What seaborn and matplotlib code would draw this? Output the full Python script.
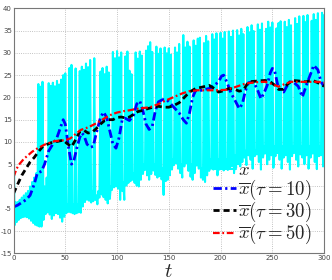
import numpy as np
import pandas as pd
import seaborn as sns
import matplotlib
matplotlib.use("Agg")
import matplotlib.pyplot as plt

# signal x: spike tops at t = 0, 2, ..., 300 and lows at t = 1, 3, ..., 299
x_hi = [19.5, -3.5, -3.5, -3.0, -2.5,
        -2.0, -1.5, -1.0, 0.0, 1.0,
        2.0, 3.0, 23.0, 22.4, 23.5,
        0.0, 2.0, 23.2, 22.6, 23.3,
        22.5, 23.7, 22.9, 24.0, 25.0,
        25.4, -4.0, 26.6, 27.3, -4.0,
        26.5, -4.0, 25.9, 26.9, 26.2,
        27.6, 26.8, 28.4, -1.0, 28.8,
        -2.0, -1.0, 25.8, 26.6, 25.2,
        26.9, 25.6, 0.0, 30.2, 28.8,
        30.4, 29.0, 30.1, 1.0, 29.2,
        30.3, 26.0, 25.2, 3.0, 30.1,
        28.7, 30.3, 29.4, 5.0, 30.5,
        31.5, 32.4, 30.2, 5.0, 31.4,
        29.8, 31.0, 4.0, 31.2, 29.9,
        31.0, 29.6, 6.0, 31.2, 30.1,
        32.0, 5.0, 34.0, 31.2, 32.5,
        31.4, 5.0, 32.8, 31.6, 33.2,
        33.4, 4.0, 32.2, 33.8, 32.6,
        6.0, 34.2, 33.0, 34.4, 6.0,
        34.5, 33.2, 34.7, 6.0, 34.8,
        33.6, 35.0, 7.0, 35.1, 33.9,
        35.4, 34.2, 8.0, 35.8, 34.6,
        36.2, 34.9, 8.0, 36.4, 35.2,
        36.6, 9.0, 35.4, 37.0, 35.7,
        36.8, 9.0, 35.5, 36.7, 37.1,
        9.0, 37.0, 35.8, 37.4, 36.2,
        9.0, 37.8, 36.5, 38.2, 9.0,
        38.3, 36.9, 38.5, 9.0, 37.2,
        38.7, 37.4, 38.9, 9.0, 39.0,
        38.5]
x_lo = [-8.7, -8.0, -7.5, -7.1, -6.9,
        -6.8, -6.9, -7.2, -7.7, -8.2,
        -8.6, -8.8, -9.0, -9.0, -7.5,
        -6.2, -5.8, -6.3, -7.3, -6.5,
        -6.0, -6.2, -7.0, -7.9, -6.8,
        -6.0, -5.7, -5.8, -6.0, -6.2,
        -6.0, -5.8, -5.9, -4.5, -3.5,
        -3.0, -3.2, -3.6, -3.3, -3.0,
        -4.0, -2.5, -1.8, -2.4, -3.0,
        -3.8, -2.8, -0.8, -0.2, 0.0,
        -0.5, -3.0, -1.0, -3.0, 0.2,
        0.8, 1.2, 1.5, 0.8, 0.2,
        0.0, 1.5, 2.8, 3.7, 2.5,
        1.5, 2.8, 3.6, 2.6, 2.0,
        2.3, 1.6, -1.9, 1.2, 1.5,
        2.5, 3.8, 4.8, 5.2, 4.0,
        3.0, 2.0, 4.5, 5.2, 3.5,
        2.2, 1.5, 3.0, 4.7, 4.0,
        2.0, 1.5, 1.0, 2.5, 3.5,
        4.0, 3.8, 4.2, 2.5, 3.8,
        4.0, 3.6, 4.2, 3.7, 4.0,
        4.5, 3.0, 4.2, 5.0, 4.5,
        5.5, 6.5, 4.8, 7.0, 6.0,
        4.0, 6.8, 7.2, 5.5, 3.8,
        6.5, 7.4, 5.0, 6.0, 7.0,
        4.2, 6.8, 7.5, 6.0, 4.0,
        6.5, 7.0, 5.5, 3.8, 6.8,
        7.5, 6.0, 4.5, 7.2, 6.5,
        5.0, 7.0, 4.0, 6.5, 7.4,
        5.5, 3.9, 6.8, 7.0, 4.5]

# moving averages
t_10 = [0, 4, 8, 12, 16, 20, 23, 27, 30, 34, 38, 42, 45, 48, 50, 53, 56, 58,
        61, 64, 66, 68, 71, 74, 77, 80, 84, 87, 90, 93, 96, 99, 102, 105, 108,
        112, 116, 119, 122, 125, 128, 131, 134, 137, 140, 144, 148, 152, 156,
        160, 164, 167, 170, 173, 176, 180, 185, 189, 193, 198, 201, 203, 206,
        210, 214, 218, 221, 224, 227, 232, 236, 239, 242, 245, 248, 250, 252,
        255, 258, 261, 264, 267, 271, 275, 279, 283, 287, 290, 294, 297, 300]
xbar_10 = [-4.6, -4.2, -3.6, -3.0, -2.0, 0.5, 3.0, 3.4, 5.0, 8.0, 9.5, 11.0,
           13.0, 15.0, 14.0, 9.0, 5.0, 5.5, 8.5, 11.0, 12.0, 11.5, 9.5, 8.8,
           9.0, 12.0, 15.5, 16.7, 15.5, 12.5, 9.5, 8.6, 11.0, 15.0, 15.3, 14.8,
           16.0, 18.5, 19.2, 17.0, 14.0, 12.8, 13.5, 17.0, 19.0, 19.5, 19.5,
           18.5, 17.5, 16.5, 15.0, 14.2, 16.5, 20.0, 21.6, 21.5, 21.8, 22.0,
           22.5, 23.5, 24.8, 25.0, 23.5, 21.0, 19.3, 17.5, 18.5, 21.5, 23.3,
           23.5, 21.5, 19.7, 21.0, 22.7, 25.5, 26.5, 26.2, 23.0, 21.5, 21.2,
           22.5, 23.5, 23.3, 22.5, 20.1, 22.8, 25.3, 27.2, 26.2, 23.5, 22.5]

t_30 = [0, 4, 8, 12, 16, 20, 24, 28, 32, 36, 40, 44, 48, 52, 56, 60, 64, 68,
        72, 76, 80, 84, 88, 92, 96, 100, 104, 108, 112, 116, 120, 125, 130,
        135, 140, 145, 150, 155, 160, 165, 170, 176, 182, 189, 194, 198, 203,
        208, 214, 218, 222, 227, 232, 237, 243, 248, 252, 256, 260, 264, 269,
        275, 282, 289, 294, 300]
xbar_30 = [-1.6, 0.5, 2.5, 4.0, 5.5, 6.5, 7.8, 8.9, 9.4, 9.8, 10.0, 10.2, 10.4,
           9.6, 8.9, 10.5, 12.3, 12.6, 12.0, 12.2, 13.0, 14.0, 14.8, 15.0,
           15.0, 15.5, 15.6, 15.4, 15.6, 16.2, 16.8, 17.1, 17.5, 17.8, 18.0,
           17.8, 17.8, 18.2, 18.8, 20.0, 21.2, 22.0, 22.3, 22.7, 22.0, 21.2,
           21.5, 22.0, 21.8, 21.4, 21.6, 23.5, 23.6, 23.7, 23.8, 23.5, 22.8,
           21.8, 21.8, 22.8, 23.8, 23.7, 23.5, 23.8, 23.3, 22.5]

t_50 = [0, 3, 6, 10, 14, 18, 22, 26, 30, 35, 40, 45, 50, 55, 60, 65, 70, 75,
        80, 85, 90, 95, 100, 106, 112, 118, 125, 132, 140, 147, 155, 163, 170,
        178, 186, 195, 205, 214, 224, 234, 243, 250, 256, 262, 268, 276, 285,
        295, 300]
xbar_50 = [2.1, 4.0, 5.1, 6.2, 7.0, 7.8, 8.4, 8.9, 9.4, 9.8, 10.2, 10.3, 10.4,
           10.8, 11.8, 12.7, 13.1, 13.6, 14.2, 14.9, 15.6, 16.2, 16.6, 16.9,
           17.1, 17.4, 17.6, 17.8, 18.5, 19.3, 20.1, 20.9, 21.4, 21.6, 21.6,
           21.6, 21.7, 22.3, 23.1, 23.4, 23.5, 23.0, 22.4, 23.0, 23.5, 23.5,
           23.5, 23.5, 23.3]

labels = [r'$x$', r'$\overline{x}(\tau=10)$', r'$\overline{x}(\tau=30)$',
          r'$\overline{x}(\tau=50)$']

# interleave tops and lows into one signal
t_x = []
x_vals = []
for k, v in enumerate(x_hi):
    t_x.append(2 * k)
    x_vals.append(v)
    if k < len(x_lo):
        t_x.append(2 * k + 1)
        x_vals.append(x_lo[k])
sig = pd.DataFrame({'t': t_x, 'x': x_vals})

sns.set_style("white")
plt.rcParams['mathtext.fontset'] = 'cm'
plt.rcParams['axes.unicode_minus'] = False

fig = plt.figure(figsize=(3.32, 2.80), dpi=100)
ax = fig.add_axes([0.0407, 0.0954, 0.9355, 0.8749])

sns.lineplot(data=sig, x='t', y='x', color='#00ffff', lw=1.5,
             estimator=None, sort=False, ax=ax, label=labels[0])
sns.lineplot(x=t_10, y=xbar_10, color='#0000ff', lw=2.0, ax=ax,
             linestyle=(0, (3, 1.2, 0.8, 1.2)), label=labels[1])
sns.lineplot(x=t_30, y=xbar_30, color='black', lw=2.0, ax=ax,
             linestyle=(0, (2.2, 1.4)), label=labels[2])
sns.lineplot(x=t_50, y=xbar_50, color='#ff0000', lw=1.6, ax=ax,
             linestyle=(0, (3, 1.2, 0.8, 1.2)), label=labels[3])

ax.set_xlim(0, 300)
ax.set_ylim(-15, 40)
ax.set_xticks(range(0, 301, 50))
ax.set_yticks(range(-15, 41, 5))
ax.tick_params(labelsize=5, colors='#444444', direction='in', length=2,
               pad=1.2, width=0.5)
ax.grid(True, linestyle=':', color='#b0b0b0', lw=0.6)
for s in ax.spines.values():
    s.set_color('#777777')
    s.set_linewidth(0.8)
ax.set_xlabel(r'$t$', fontsize=15, labelpad=0)
ax.set_ylabel('')

leg = ax.legend(loc='lower right', bbox_to_anchor=(1.0, -0.025), frameon=False,
                fontsize=13.5, handlelength=1.25, handletextpad=0.08,
                labelspacing=-0.1, borderpad=0.2)

fig.savefig('out.png', dpi=100)
